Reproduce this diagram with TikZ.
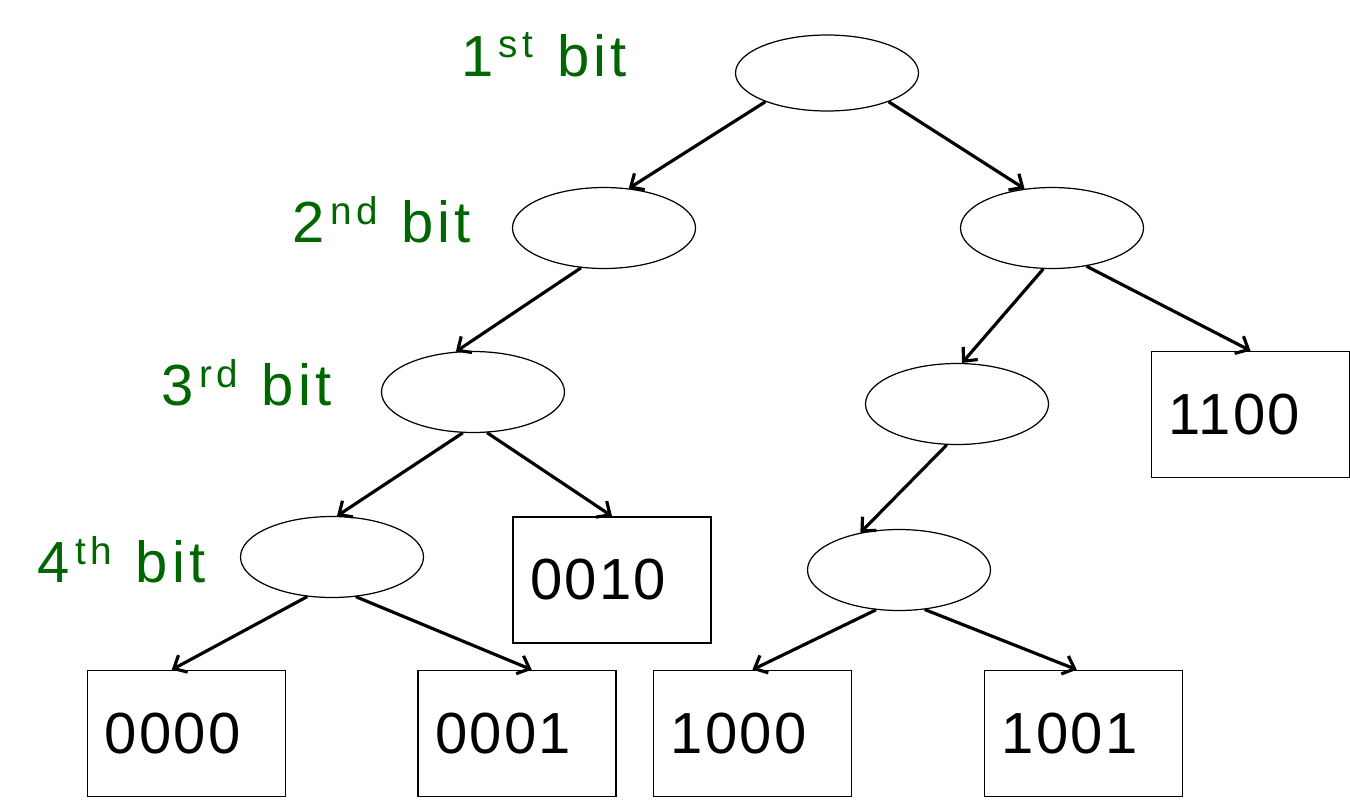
\documentclass[tikz,border=0pt]{standalone}
\usepackage{fontspec}
\setmainfont{Liberation Sans}
\usepackage{xcolor}
\usepackage{tikz}
\usetikzlibrary{arrows.meta, shapes.geometric}
\definecolor{bitgreen}{HTML}{006600}
\newcommand\bitsup[1]{\kern3pt\raisebox{10.5pt}{\fontsize{22}{22}\selectfont\addfontfeature{LetterSpace=12}#1}\kern2pt\relax}

\begin{document}
\begin{tikzpicture}[
    every node/.style={font=\fontsize{33}{40}\selectfont},
    bitnode/.style={draw, ellipse, line width=0.7pt,
                    minimum width=3.66cm, minimum height=1.62cm},
    leaf/.style={draw, rectangle, line width=0.9pt, minimum width=3.96cm,
                 minimum height=2.52cm, text width=3.28cm, inner xsep=0.34cm,
                 align=left, font=\fontsize{33}{40}\selectfont\addfontfeature{LetterSpace=4}},
    lbl/.style={text=bitgreen,
                font=\fontsize{33}{40}\selectfont\addfontfeature{LetterSpace=7}},
    edge/.style={line width=1.8pt, -{Straight Barb[length=6pt,width=11pt]}},
]
\useasboundingbox (0,0) rectangle (27,-16.16);

% trie nodes
\node[bitnode, minimum height=1.52cm] (root) at (16.54, -1.46) {};
\node[bitnode] (n0)   at (12.08, -4.56) {};
\node[bitnode] (n1)   at (21.04, -4.56) {};
\node[bitnode] (n00)  at (9.46, -7.84) {};
\node[bitnode] (n10)  at (19.14, -8.08) {};
\node[bitnode] (n000) at (6.64, -11.14) {};
\node[bitnode] (n100) at (17.98, -11.40) {};

% keys
\node[leaf] (b1100) at (25.01, -8.29)  {1100};
\node[leaf] (b0010) at (12.24, -11.60) {0010};
\node[leaf] (b0000) at (3.73, -14.67)  {0000};
\node[leaf] (b0001) at (10.34, -14.67) {0001};
\node[leaf] (b1000) at (15.05, -14.67) {1000};
\node[leaf] (b1001) at (21.67, -14.67) {1001};

% level labels
\node[lbl] (l1) at (10.88, -1.10) {1\bitsup{st} bit};
\node[lbl] (l2) at (7.64, -4.40)  {2\bitsup{nd} bit};
\node[lbl] (l3) at (4.93, -7.66)  {3\bitsup{rd} bit};
\node[lbl] (l4) at (2.43, -11.20) {4\bitsup{th} bit};

\draw[edge] (root.205) -- (n0.58);
\draw[edge] (root.335) -- (n1.125);
\draw[edge] (n0.240)   -- (n00.113);
\draw[edge] (n1.258)   -- (n10.83);
\draw[edge] (n1.312)   -- (b1100.north);
\draw[edge] (n00.256)  -- (n000.83);
\draw[edge] (n00.289)  -- (b0010.north);
\draw[edge] (n10.256)  -- (n100.136);
\draw[edge] (n000.238) -- (b0000.103);
\draw[edge] (n000.301) -- (b0001.77);
\draw[edge] (n100.240) -- (b1000.north);
\draw[edge] (n100.303) -- (b1001.96);
\end{tikzpicture}
\end{document}
